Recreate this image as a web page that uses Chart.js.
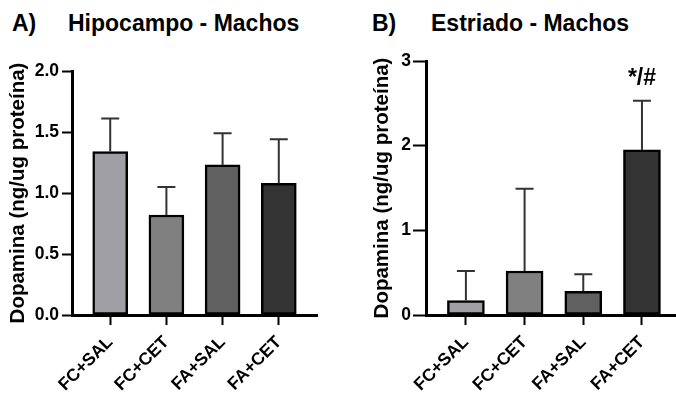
<!DOCTYPE html>
<html>
<head>
<meta charset="utf-8">
<script src="https://cdn.jsdelivr.net/npm/chart.js@4"></script>
<style>
  html, body { margin: 0; padding: 0; background: #fff; }
  body { width: 676px; height: 394px; position: relative; overflow: hidden; font-family: "Liberation Sans", Arial, sans-serif; }
  .panel { position: absolute; top: 0; }
  .ttl { position: absolute; font-weight: bold; font-size: 23px; line-height: 23px; color: #000; white-space: nowrap; }
</style>
</head>
<body>
  <div class="ttl" style="left:12px;top:12px">A)</div>
  <div class="ttl" style="left:68px;top:12px">Hipocampo - Machos</div>
  <div class="ttl" style="left:372px;top:12px">B)</div>
  <div class="ttl" style="left:431px;top:12px">Estriado - Machos</div>

  <canvas id="chA" class="panel" width="340" height="394" style="left:0"></canvas>
  <canvas id="chB" class="panel" width="336" height="394" style="left:340px"></canvas>

<script>
// ---- data ----
const categories = ['FC+SAL', 'FC+CET', 'FA+SAL', 'FA+CET'];
const hipocampoMean = [1.34, 0.82, 1.23, 1.08];
const hipocampoErr = [0.27, 0.23, 0.26, 0.36];
const estriadoMean = [0.17, 0.52, 0.28, 1.95];
const estriadoErr = [0.35, 0.97, 0.2, 0.58];
const estriadoMarks = ['', '', '', '*/#'];
const hipocampoTicks = [0, 0.5, 1, 1.5, 2];
const estriadoTicks = [0, 1, 2, 3];
const barColors = ['#a09fa5', '#808080', '#606060', '#333333'];

const FONT = '"Liberation Sans", Arial, sans-serif';
const AXIS_TITLE = 'Dopamina (ng/ug proteína)';

// upper-only error bars + significance marks
const errorBars = {
  id: 'errorBars',
  afterDatasetsDraw(chart, args, opts) {
    const { ctx } = chart;
    const y = chart.scales.y;
    const meta = chart.getDatasetMeta(0);
    ctx.save();
    meta.data.forEach((bar, i) => {
      const top = y.getPixelForValue(opts.mean[i] + opts.err[i]);
      ctx.strokeStyle = '#333';
      ctx.lineWidth = 2;
      ctx.beginPath();
      ctx.moveTo(bar.x, bar.y);
      ctx.lineTo(bar.x, top);
      ctx.moveTo(bar.x - 9, top);
      ctx.lineTo(bar.x + 9, top);
      ctx.stroke();
      const mark = opts.marks && opts.marks[i];
      if (mark) {
        ctx.fillStyle = '#000';
        ctx.font = 'bold 23px ' + FONT;
        ctx.textAlign = 'center';
        ctx.textBaseline = 'alphabetic';
        ctx.fillText(mark, bar.x, top - 16);
      }
    });
    ctx.restore();
  },
};

function makeChart(id, cfg) {
  return new Chart(document.getElementById(id), {
    type: 'bar',
    data: {
      datasets: [
        {
          data: cfg.mean.map((v, i) => ({ x: i, y: v })),
          backgroundColor: barColors,
          borderColor: '#000',
          borderWidth: 2.5,
          borderSkipped: false,
          barThickness: cfg.barW,
        },
      ],
    },
    options: {
      responsive: false,
      animation: false,
      devicePixelRatio: 1,
      layout: { padding: cfg.padding },
      plugins: {
        legend: { display: false },
        tooltip: { enabled: false },
        errorBars: { mean: cfg.mean, err: cfg.err, marks: cfg.marks },
      },
      scales: {
        x: {
          type: 'linear',
          offset: false,
          min: cfg.xMin,
          max: cfg.xMax,
          afterBuildTicks: (s) => { s.ticks = categories.map((c, i) => ({ value: i })); },
          afterFit: (s) => { s.height = 79; },
          ticks: {
            autoSkip: false,
            minRotation: 45,
            maxRotation: 45,
            padding: 7,
            color: '#000',
            font: { family: FONT, size: 17.5, weight: 'bold' },
            callback: (v, i) => categories[i],
          },
          grid: { offset: false, drawOnChartArea: false, tickLength: 10, tickWidth: 2, tickColor: '#000' },
          border: { color: '#000', width: 3 },
        },
        y: {
          min: 0,
          max: cfg.ticks[cfg.ticks.length - 1],
          afterBuildTicks: (s) => { s.ticks = cfg.ticks.map((v) => ({ value: v })); },
          afterFit: (s) => { s.width = cfg.yW; },
          ticks: {
            padding: cfg.tickPad,
            color: '#000',
            font: { family: FONT, size: 17.5, weight: 'bold' },
            callback: cfg.fmt,
          },
          grid: { drawOnChartArea: false, tickLength: cfg.tickLen, tickWidth: 2, tickColor: '#000' },
          border: { color: '#000', width: 3 },
          title: {
            display: true,
            text: AXIS_TITLE,
            color: '#000',
            font: { family: FONT, size: 20.5, weight: 'bold' },
            padding: { top: cfg.titlePad, bottom: 0 },
          },
        },
      },
    },
    plugins: [errorBars],
  });
}

makeChart('chA', {
  mean: hipocampoMean,
  err: hipocampoErr,
  marks: null,
  ticks: hipocampoTicks,
  fmt: (v) => v.toFixed(1),
  padding: { top: 71, right: 23, bottom: 0, left: 0 },
  yW: 72,
  xMin: -0.68,
  xMax: 3.68,
  barW: 35,
  tickLen: 10,
  tickPad: 3,
  titlePad: 6,
});

makeChart('chB', {
  mean: estriadoMean,
  err: estriadoErr,
  marks: estriadoMarks,
  ticks: estriadoTicks,
  fmt: (v) => String(v),
  padding: { top: 61, right: 0, bottom: 0, left: 0 },
  yW: 86,
  xMin: -0.68,
  xMax: 3.58,
  barW: 37,
  tickLen: 13,
  tickPad: 2,
  titlePad: 30,
});
</script>
</body>
</html>
